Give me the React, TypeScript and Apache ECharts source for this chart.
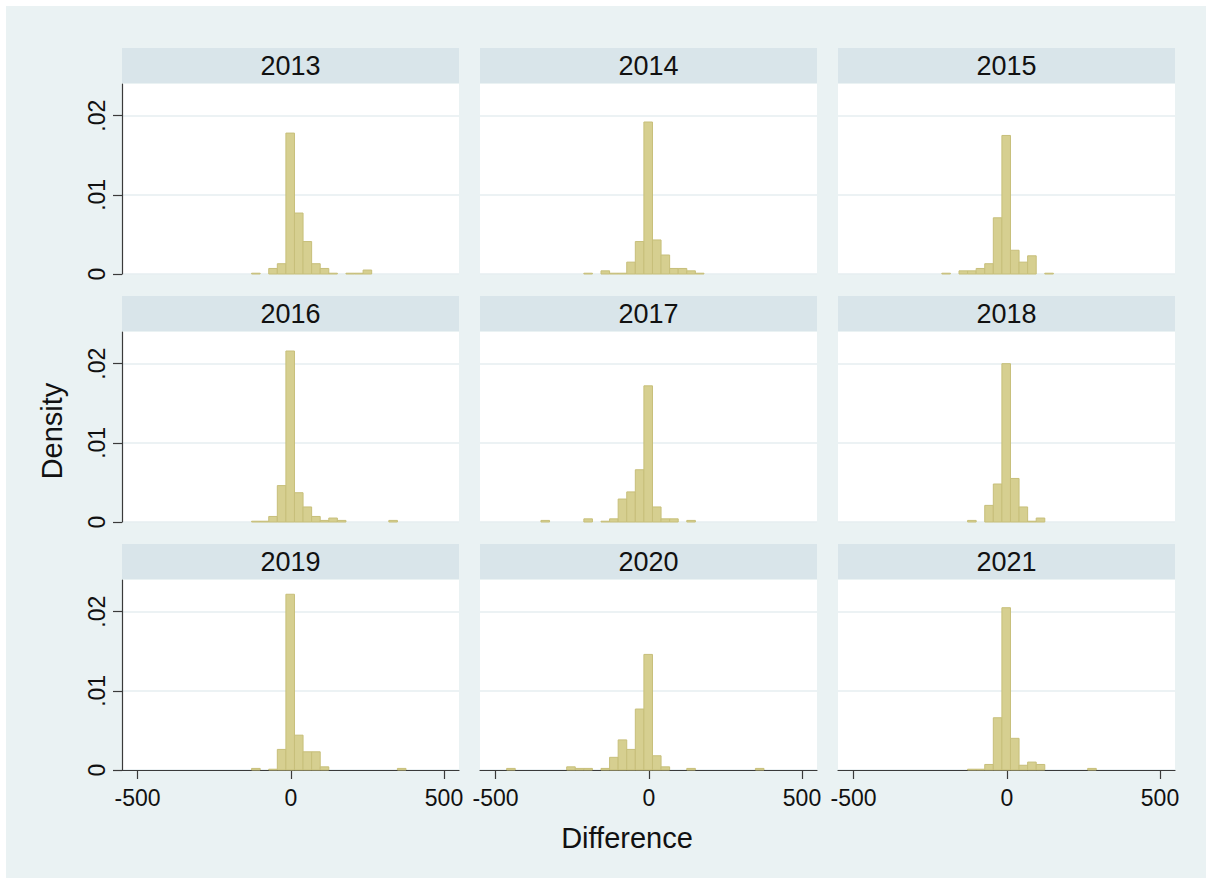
import React, { useEffect, useRef } from 'react';
import * as echarts from 'echarts';

// ---- data ----
const YEARS = ['2013', '2014', '2015', '2016', '2017', '2018', '2019', '2020', '2021'];
const BIN_START = -464; // left edge of first bin
const BIN_WIDTH = 28;
// densities per bin (30 bins from -464 to 376)
const d2013 = [0,0,0,0,0,0,0,0,0,0,0,0,0.0001,0,0.0007,0.0013,0.0178,0.0077,0.0041,0.0013,0.0007,0.0001,0,0.0001,0.0001,0.0005,0,0,0,0];
const d2014 = [0,0,0,0,0,0,0,0,0,0.0001,0,0.0004,0.0001,0.0001,0.0015,0.0041,0.0192,0.0043,0.0024,0.0007,0.0007,0.0004,0.0001,0,0,0,0,0,0,0];
const d2015 = [0,0,0,0,0,0,0,0,0,0.0001,0,0.0004,0.0004,0.0007,0.0013,0.0071,0.0175,0.0030,0.0015,0.0023,0,0.0001,0,0,0,0,0,0,0,0];
const d2016 = [0,0,0,0,0,0,0,0,0,0,0,0,0.0001,0.0001,0.0007,0.0046,0.0216,0.0037,0.0019,0.0007,0.0002,0.0005,0.0002,0,0,0,0,0,0.0002,0];
const d2017 = [0,0,0,0,0.0002,0,0,0,0,0.0004,0,0.0001,0.0004,0.0029,0.0038,0.0066,0.0172,0.0019,0.0004,0.0004,0,0.0002,0,0,0,0,0,0,0,0];
const d2018 = [0,0,0,0,0,0,0,0,0,0,0,0,0.0002,0,0.0021,0.0048,0.0200,0.0055,0.0019,0.0001,0.0005,0,0,0,0,0,0,0,0,0];
const d2019 = [0,0,0,0,0,0,0,0,0,0,0,0,0.0002,0,0.0001,0.0026,0.0222,0.0044,0.0023,0.0023,0.0004,0,0,0,0,0,0,0,0,0.0002];
const d2020 = [0.0002,0,0,0,0,0,0,0.0004,0.0002,0.0002,0,0.0002,0.0016,0.0038,0.0026,0.0077,0.0146,0.0018,0.0004,0,0,0.0002,0,0,0,0,0,0,0,0.0002];
const d2021 = [0,0,0,0,0,0,0,0,0,0,0,0,0.0001,0.0001,0.0007,0.0066,0.0205,0.0040,0.0006,0.0010,0.0007,0,0,0,0,0,0.0002,0,0,0];
const DENSITIES = [d2013, d2014, d2015, d2016, d2017, d2018, d2019, d2020, d2021];

const X_MIN = -551;
const X_MAX = 549;
const Y_MAX = 0.024;
const X_TICKS = [-500, 0, 500];
const Y_TICKS = [0, 0.01, 0.02];
const Y_TICK_LABELS = ['0', '.01', '.02'];
const X_TITLE = 'Difference';
const Y_TITLE = 'Density';

// ---- layout / style ----
const OFF = 6; // chart div offset in page
const COL_LEFT = [122, 480, 838];
const ROW_TOP = [84, 332, 580];
const PANEL_W = 337;
const PANEL_H = 190;
const STRIP_H = 35;
const FONT = 'Liberation Sans, Arial, Helvetica, sans-serif';
const BAR_FILL = '#d6cf90';
const BAR_STROKE = '#c7bf7a';
const BG = '#eaf2f3';
const STRIP_BG = '#d9e5ea';
const GRID_LINE = '#e6eef1';
const AXIS_COLOR = '#3a3a3a';

export default function App() {
  const ref = useRef<HTMLDivElement>(null);

  useEffect(() => {
    const chart = echarts.init(ref.current!, null, { renderer: 'svg' });

    const grids: any[] = [];
    const xAxes: any[] = [];
    const yAxes: any[] = [];
    const series: any[] = [];
    const graphics: any[] = [];

    YEARS.forEach((year, i) => {
      const r = Math.floor(i / 3);
      const c = i % 3;
      const left = COL_LEFT[c] - OFF;
      const top = ROW_TOP[r] - OFF;
      grids.push({
        left,
        top,
        width: PANEL_W,
        height: PANEL_H,
        show: true,
        backgroundColor: '#ffffff',
        borderWidth: 0,
        containLabel: false,
      });
      xAxes.push({
        gridIndex: i,
        type: 'value',
        min: X_MIN,
        max: X_MAX,
        axisLine: { show: r === 2, onZero: false, lineStyle: { color: AXIS_COLOR, width: 1.2 } },
        axisTick: { show: r === 2, customValues: X_TICKS, length: 9, lineStyle: { color: AXIS_COLOR, width: 1.2 } },
        axisLabel: {
          show: r === 2,
          customValues: X_TICKS,
          margin: 16,
          fontSize: 23,
          fontFamily: FONT,
          color: '#111',
        },
        splitLine: { show: false },
      });
      yAxes.push({
        gridIndex: i,
        type: 'value',
        min: 0,
        max: Y_MAX,
        interval: 0.01,
        axisLine: { show: c === 0, onZero: false, lineStyle: { color: AXIS_COLOR, width: 1.2 } },
        axisTick: { show: c === 0, customValues: Y_TICKS, length: 9, lineStyle: { color: AXIS_COLOR, width: 1.2 } },
        axisLabel: {
          show: c === 0,
          customValues: Y_TICKS,
          rotate: 90,
          margin: 14,
          fontSize: 23,
          fontFamily: FONT,
          color: '#111',
          formatter: (v: number) => {
            const idx = Y_TICKS.findIndex((t) => Math.abs(t - v) < 1e-9);
            return idx >= 0 ? Y_TICK_LABELS[idx] : '';
          },
        },
        splitLine: { show: true, lineStyle: { color: GRID_LINE, width: 1.5 } },
      });
      const data = DENSITIES[i]
        .map((d, k) => [BIN_START + k * BIN_WIDTH, BIN_START + (k + 1) * BIN_WIDTH, d])
        .filter((p) => p[2] > 0);
      series.push({
        type: 'custom',
        xAxisIndex: i,
        yAxisIndex: i,
        data,
        encode: { x: [0, 1], y: 2 },
        renderItem: (params: any, api: any) => {
          const x0 = api.value(0);
          const x1 = api.value(1);
          const y = api.value(2);
          const p0 = api.coord([x0, y]);
          const p1 = api.coord([x1, 0]);
          return {
            type: 'rect',
            shape: { x: p0[0], y: p0[1], width: p1[0] - p0[0], height: p1[1] - p0[1] },
            style: { fill: BAR_FILL, stroke: BAR_STROKE, lineWidth: 1 },
          };
        },
      });
      // strip header
      graphics.push({
        type: 'rect',
        shape: { x: left, y: top - STRIP_H - 1, width: PANEL_W, height: STRIP_H },
        style: { fill: STRIP_BG },
      });
      graphics.push({
        type: 'text',
        x: left + PANEL_W / 2,
        y: top - STRIP_H - 1 + STRIP_H / 2,
        style: {
          text: year,
          fontSize: 27,
          fontFamily: FONT,
          fill: '#111',
          align: 'center',
          verticalAlign: 'middle',
        },
      });
    });

    graphics.push({
      type: 'text',
      x: 52 - OFF,
      y: 431 - OFF,
      rotation: Math.PI / 2,
      style: {
        text: Y_TITLE,
        fontSize: 29,
        fontFamily: FONT,
        fill: '#111',
        align: 'center',
        verticalAlign: 'middle',
      },
    });
    graphics.push({
      type: 'text',
      x: 627 - OFF,
      y: 838 - OFF,
      style: {
        text: X_TITLE,
        fontSize: 29,
        fontFamily: FONT,
        fill: '#111',
        align: 'center',
        verticalAlign: 'middle',
      },
    });

    chart.setOption({
      animation: false,
      backgroundColor: BG,
      grid: grids,
      xAxis: xAxes,
      yAxis: yAxes,
      series,
      graphic: graphics,
    });

    return () => chart.dispose();
  }, []);

  return (
    <div
      ref={ref}
      style={{ position: 'absolute', left: OFF, top: OFF, width: 1200, height: 872 }}
    />
  );
}
